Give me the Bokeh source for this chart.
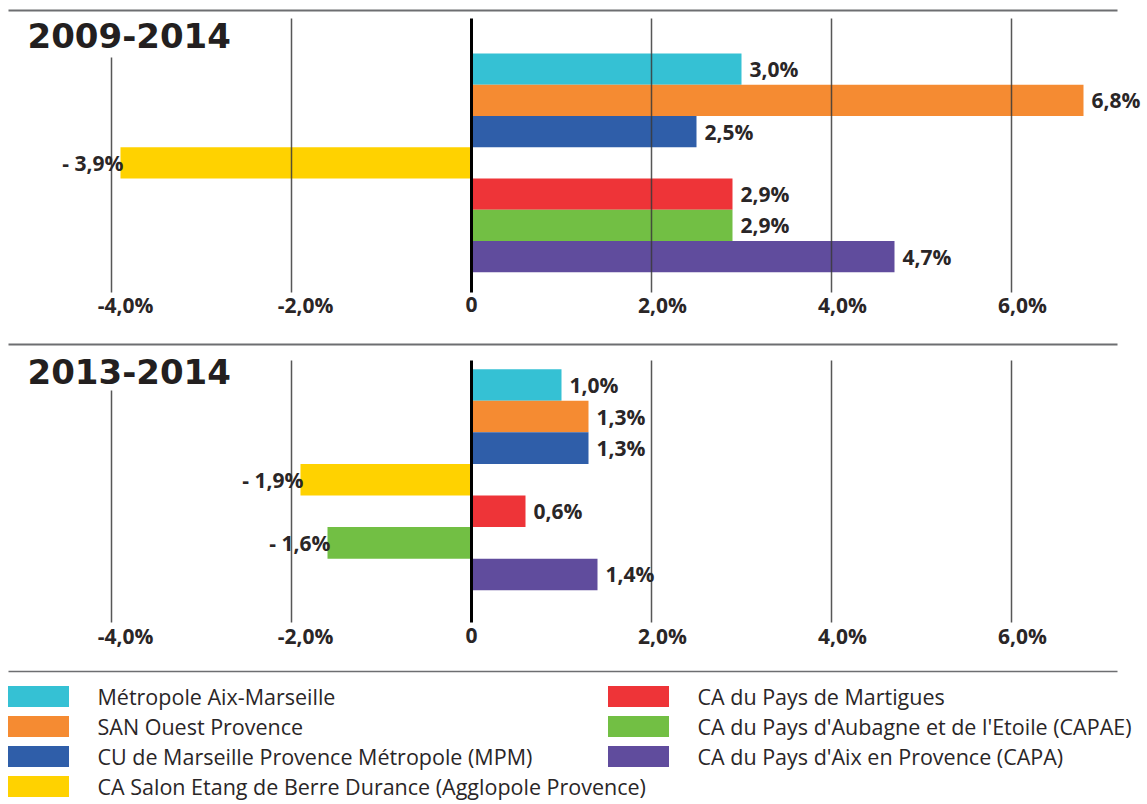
from bokeh.plotting import figure
from bokeh.models import ColumnDataSource, Range1d
from bokeh.layouts import column
from bokeh.embed import file_html
from bokeh.resources import INLINE
from bokeh.core.properties import value

territories = [
    "Métropole Aix-Marseille",
    "SAN Ouest Provence",
    "CU de Marseille Provence Métropole (MPM)",
    "CA Salon Etang de Berre Durance (Agglopole Provence)",
    "CA du Pays de Martigues",
    "CA du Pays d'Aubagne et de l'Etoile (CAPAE)",
    "CA du Pays d'Aix en Provence (CAPA)",
]
colors = ["#35c1d4", "#f58b32", "#2f5ea9", "#ffd200", "#ee3438", "#72bf44", "#604c9d"]
growth_2009_2014 = [3.0, 6.8, 2.5, -3.9, 2.9, 2.9, 4.7]
growth_2013_2014 = [1.0, 1.3, 1.3, -1.9, 0.6, -1.6, 1.4]
tick_values = [-4, -2, 0, 2, 4, 6]
tick_labels = ["-4,0%", "-2,0%", "0", "2,0%", "4,0%", "6,0%"]
panel_titles = ["2009-2014", "2013-2014"]

W = 1147
PX_PER_PCT = 90.0
ZERO_X = 471.0  # zero line, px from figure left
X0 = -ZERO_X / PX_PER_PCT
X1 = (W - ZERO_X) / PX_PER_PCT
TXT = "#2a2627"
LABEL_FONT = value("Open Sans")


def fmt(v):
    s = f"{abs(v):.1f}".replace(".", ",") + "%"
    return ("- " + s) if v < 0 else s


def px2x(px):
    return (px - ZERO_X) / PX_PER_PCT


def make_panel(vals, title, g):
    fig_top, fig_h, c0, pitch = g["fig_top"], g["fig_h"], g["c0"], g["pitch"]

    def yy(page):
        return (page - c0) / pitch

    p = figure(width=W, height=fig_h, output_backend="svg", toolbar_location=None,
               x_axis_type=None, y_axis_type=None, min_border=0,
               x_range=Range1d(X0, X1),
               y_range=Range1d(yy(fig_top + fig_h), yy(fig_top)),
               outline_line_color=None, background_fill_color="white")

    idx = list(range(len(vals)))
    src = ColumnDataSource(dict(y=idx, v=vals, c=colors, lab=[fmt(v) for v in vals]))
    p.hbar(y="y", left=0, right="v", height=1.0, fill_color="c", line_color=None, source=src)

    # top rule
    p.segment(x0=[px2x(8)], x1=[px2x(1117)], y0=[yy(g["rule"])], y1=[yy(g["rule"])],
              line_color="#6d6e71", line_width=2)
    # grid lines
    gx = [t for t in tick_values if t != 0]
    gtop = [yy(g["far_top"]) if t == min(tick_values) else yy(g["grid_top"]) for t in gx]
    p.segment(x0=gx, x1=gx, y0=gtop, y1=[yy(g["grid_bot"])] * len(gx),
              line_color="#3a3a3a", line_width=1.5, line_alpha=0.85)
    # zero line
    p.segment(x0=[0], x1=[0], y0=[yy(g["grid_top"])], y1=[yy(g["grid_bot"])],
              line_color="black", line_width=3)

    # value labels
    pos = ColumnDataSource(dict(y=[i for i in idx if vals[i] >= 0],
                                v=[v for v in vals if v >= 0],
                                lab=[fmt(v) for v in vals if v >= 0]))
    neg = ColumnDataSource(dict(y=[i for i in idx if vals[i] < 0],
                                v=[v for v in vals if v < 0],
                                lab=[fmt(v) for v in vals if v < 0]))
    p.text(x="v", y="y", text="lab", source=pos, x_offset=8, text_align="left",
           text_baseline="middle", text_font=LABEL_FONT, text_font_style="bold",
           text_font_size="21px", text_color=TXT)
    p.text(x="v", y="y", text="lab", source=neg, x_offset=3, text_align="right",
           text_baseline="middle", text_font=LABEL_FONT, text_font_style="bold",
           text_font_size="21px", text_color=TXT)

    # tick labels
    tsrc = ColumnDataSource(dict(x=tick_values, lab=tick_labels,
                                 off=[0 if t == 0 else (14 if t < 0 else 11) for t in tick_values]))
    p.text(x="x", y=yy(g["tick_y"]), text="lab", source=tsrc, x_offset="off",
           text_align="center", text_baseline="middle", text_font=LABEL_FONT,
           text_font_style="bold", text_font_size="21px", text_color=TXT)

    # panel title
    p.text(x=[px2x(27)], y=[yy(g["title_y"])], text=[title], text_align="left",
           text_baseline="middle", text_font=value("DejaVu Sans"), text_font_style="bold",
           text_font_size="34px", text_color="#231f20")
    return p


geo1 = dict(fig_top=0, fig_h=330, c0=68.5, pitch=31.25, rule=10, grid_top=18,
            far_top=57, grid_bot=292, title_y=35, tick_y=304)
geo2 = dict(fig_top=330, fig_h=330, c0=384.5, pitch=31.58, rule=344, grid_top=360,
            far_top=390, grid_bot=622, title_y=371, tick_y=635)

p1 = make_panel(growth_2009_2014, panel_titles[0], geo1)
p2 = make_panel(growth_2013_2014, panel_titles[1], geo2)

# legend figure
LH = 144
lg = figure(width=W, height=LH, output_backend="svg", toolbar_location=None,
            x_axis_type=None, y_axis_type=None, min_border=0,
            x_range=Range1d(0, W), y_range=Range1d(LH, 0),
            outline_line_color=None, background_fill_color="white")
lg.segment(x0=[8], x1=[1117], y0=[11], y1=[11], line_color="#6d6e71", line_width=1.5)
n_rows = 4
cols_i = [i // n_rows for i in range(len(territories))]
rows_i = [i % n_rows for i in range(len(territories))]
sw_x = [38 + c * 600 for c in cols_i]
sw_y = [36 + r * 30 for r in rows_i]
lsrc = ColumnDataSource(dict(x=sw_x, y=sw_y, c=colors, t=territories,
                             tx=[97 + c * 600 for c in cols_i]))
lg.rect(x="x", y="y", width=61, height=21, fill_color="c", line_color=None, source=lsrc)
lg.text(x="tx", y="y", text="t", source=lsrc, text_align="left", text_baseline="middle",
        text_font=value("Open Sans"), text_font_size="21.5px", text_color=TXT)

layout = column(p1, p2, lg, spacing=0)
open("out.html", "w").write(file_html(layout, INLINE))
